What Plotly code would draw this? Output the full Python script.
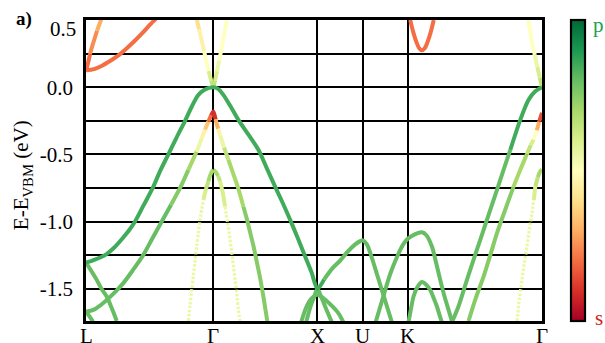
import plotly.graph_objects as go
from plotly.colors import sample_colorscale, diverging

# ---------------- k-path ----------------
KPOINT_POS = [0.0, 127.3, 231.3, 276.7, 321.3, 455.7]
KPOINT_LABELS = ["L", "Γ", "X", "U", "K", "Γ"]

Y_TICKS = [-1.5, -1.25, -1.0, -0.75, -0.5, -0.25, 0.0, 0.25, 0.5]
Y_TICKTEXT = ["-1.5", "", "-1.0", "", "-0.5", "", "0.0", "", ""]

# ---------------- bands: k, E (eV), p-character (0 = s, 1 = p) ----------------
# conduction bands
cbL1_k = [0, 8, 16, 24, 32, 40, 48, 56, 64, 70]
cbL1_e = [0.125, 0.135, 0.16, 0.195, 0.235, 0.285, 0.34, 0.40, 0.465, 0.51]
cbL1_c = [0.19, 0.19, 0.2, 0.2, 0.2, 0.2, 0.2, 0.2, 0.21, 0.21]

cbL2_k = [0, 2, 4, 6, 8.5, 11, 13.5, 15.5]
cbL2_e = [0.125, 0.18, 0.245, 0.30, 0.36, 0.42, 0.47, 0.51]
cbL2_c = [0.2, 0.21, 0.22, 0.24, 0.26, 0.28, 0.3, 0.31]

cbG_left_k = [127.3, 125, 122.5, 120, 118, 115.5, 113, 110.5]
cbG_left_e = [0.0, 0.05, 0.12, 0.2, 0.27, 0.35, 0.43, 0.51]
cbG_left_c = [0.66, 0.6, 0.55, 0.5, 0.47, 0.44, 0.42, 0.40]

cbG_right_k = [127.3, 129, 131, 133, 134.5, 136.5, 138.5, 140.7]
cbG_right_e = [0.0, 0.05, 0.12, 0.2, 0.25, 0.33, 0.41, 0.5]
cbG_right_c = [0.66, 0.6, 0.56, 0.53, 0.51, 0.5, 0.49, 0.48]

cbG2_k = [455.7, 453.5, 451, 448.5, 446, 444, 442]
cbG2_e = [0.0, 0.07, 0.15, 0.24, 0.32, 0.41, 0.5]
cbG2_c = [0.68, 0.6, 0.55, 0.52, 0.5, 0.48, 0.47]

cbK_k = [324, 327, 330, 333, 335.7, 338.5, 341.5, 344.5, 347.5]
cbK_e = [0.5, 0.41, 0.34, 0.29, 0.275, 0.29, 0.34, 0.41, 0.5]
cbK_c = [0.22] * 9

# valence bands
vb1_k = [0, 5, 10, 19, 28, 37, 44, 49, 57.5, 66.7, 74, 82.3, 90.5, 99, 106, 112, 118,
         127.3, 132, 137.3, 145, 152.3, 162, 172.3, 180.5, 189, 196.5, 204, 211.5, 219, 225.5,
         231.3, 238, 246, 254, 262, 269, 274, 276.7, 280.7, 285.7, 290.7, 295.7, 300.7, 305.7]
vb1_e = [-1.305, -1.295, -1.28, -1.25, -1.195, -1.12, -1.055, -1.0, -0.88, -0.75, -0.625,
         -0.5, -0.375, -0.25, -0.14, -0.06, -0.02,
         0.0, -0.012, -0.057, -0.15, -0.243, -0.35, -0.466, -0.6, -0.74, -0.86, -0.987, -1.12,
         -1.26, -1.38,
         -1.50, -1.43, -1.35, -1.29, -1.22, -1.17, -1.145, -1.14, -1.17, -1.27, -1.39, -1.51,
         -1.63, -1.75]
vb1_c = [0.83] * 15 + [0.85, 0.86, 0.87, 0.87, 0.87, 0.87, 0.87, 0.86, 0.86, 0.85, 0.85,
         0.85, 0.85, 0.84, 0.84, 0.84, 0.83, 0.83, 0.82, 0.82, 0.82, 0.82, 0.82, 0.82, 0.81,
         0.81, 0.81, 0.8, 0.8, 0.8, 0.8]

vb2_k = [0, 7.3, 14, 20.7, 29, 37.3, 47, 57.3, 66, 75.7, 85, 94, 102.3, 110.5, 115.7, 119,
         122.3, 125, 127.3, 129.5, 132, 134, 138, 142.3, 146.5, 150.7, 154, 157.3, 160.7, 164,
         167.3, 170.7, 174, 177.3, 180.7, 182]
vb2_e = [-1.67, -1.657, -1.625, -1.583, -1.525, -1.458, -1.36, -1.248, -1.13, -1.0, -0.875,
         -0.75, -0.615, -0.48, -0.38, -0.315, -0.256, -0.21, -0.18, -0.24, -0.31, -0.355,
         -0.45, -0.54, -0.63, -0.72, -0.80, -0.89, -0.98, -1.08, -1.18, -1.30, -1.42, -1.56,
         -1.72, -1.78]
vb2_c = [0.8, 0.8, 0.8, 0.8, 0.8, 0.8, 0.8, 0.8, 0.79, 0.78, 0.77, 0.76, 0.72, 0.64, 0.5,
         0.4, 0.28, 0.15, 0.03, 0.2, 0.38, 0.5, 0.62, 0.68, 0.7, 0.72, 0.72, 0.73, 0.73, 0.73,
         0.73, 0.73, 0.73, 0.73, 0.73, 0.73]

vb2b_k = [382.3, 389.5, 397.3, 404, 410.7, 419, 427.3, 434, 440.5, 444.5, 447.3, 450.5, 453,
          455.7]
vb2b_e = [-1.74, -1.57, -1.41, -1.25, -1.086, -0.91, -0.74, -0.615, -0.50, -0.43, -0.39,
          -0.32, -0.255, -0.19]
vb2b_c = [0.73, 0.73, 0.73, 0.73, 0.73, 0.73, 0.73, 0.72, 0.7, 0.62, 0.55, 0.4, 0.25, 0.04]

vb3a_k = [102.3, 104, 105.7, 107.3, 109, 110.7, 112.3, 114.5, 117.3, 119.8, 122.3, 125, 127.3]
vb3a_e = [-1.74, -1.62, -1.508, -1.40, -1.285, -1.18, -1.086, -0.96, -0.84, -0.76, -0.70,
          -0.64, -0.615]
vb3a_c = [0.54, 0.54, 0.54, 0.54, 0.54, 0.54, 0.54, 0.55, 0.56, 0.62, 0.68, 0.7, 0.72]

vb3b_k = [127.3, 130, 132, 134, 136.5, 139, 141.5, 144, 146.5, 149, 151, 152.3, 154]
vb3b_e = [-0.615, -0.635, -0.66, -0.70, -0.78, -0.888, -1.01, -1.136, -1.28, -1.434, -1.56,
          -1.657, -1.74]
vb3b_c = [0.72, 0.7, 0.68, 0.64, 0.6, 0.56, 0.54, 0.54, 0.54, 0.54, 0.54, 0.54, 0.54]

vb3c_k = [430.7, 433, 435.7, 438, 440.7, 443, 445.7, 447.5, 449, 451.5, 454, 455.7]
vb3c_e = [-1.74, -1.58, -1.434, -1.31, -1.186, -1.06, -0.94, -0.84, -0.74, -0.67, -0.625,
          -0.615]
vb3c_c = [0.54, 0.54, 0.54, 0.54, 0.54, 0.54, 0.55, 0.57, 0.62, 0.67, 0.7, 0.72]

vb4_k = [0, 5.5, 10.7, 15.5, 20.7, 25.5, 30.7]
vb4_e = [-1.305, -1.37, -1.434, -1.5, -1.558, -1.64, -1.74]
vb4_c = [0.8] * 7

vb5_k = [0, 3.5, 7]
vb5_e = [-1.67, -1.705, -1.745]
vb5_c = [0.8] * 3

vbX1_k = [220, 224, 228, 231.3, 235, 240, 245.7]
vbX1_e = [-1.75, -1.64, -1.56, -1.50, -1.56, -1.65, -1.75]
vbX1_c = [0.8] * 7

vbX2_k = [215, 220, 225, 231.3, 238, 246, 252, 257.3]
vbX2_e = [-1.75, -1.64, -1.575, -1.545, -1.575, -1.63, -1.68, -1.75]
vbX2_c = [0.8] * 8

vbK1_k = [289, 293, 297, 304, 311, 317, 321.3, 326, 331, 335.7, 340, 345.7, 350, 354, 358,
          362.3, 366]
vbK1_e = [-1.76, -1.66, -1.56, -1.39, -1.26, -1.17, -1.13, -1.105, -1.088, -1.08, -1.10,
          -1.186, -1.31, -1.434, -1.55, -1.657, -1.75]
vbK1_c = [0.8] * 17

vbK2_k = [322.3, 325, 327.3, 331, 335.7, 340, 344, 347.5, 350.7, 353.5, 355.7]
vbK2_e = [-1.75, -1.64, -1.558, -1.49, -1.45, -1.47, -1.51, -1.57, -1.632, -1.70, -1.75]
vbK2_c = [0.78] * 11

vbKG_k = [365, 372.3, 380.7, 387, 394, 404, 410.7, 417.3, 424, 434, 442.3, 449, 455.7]
vbKG_e = [-1.76, -1.63, -1.434, -1.29, -1.136, -0.913, -0.764, -0.615, -0.467, -0.243,
          -0.094, -0.03, 0.0]
vbKG_c = [0.78, 0.78, 0.78, 0.79, 0.8, 0.8, 0.81, 0.82, 0.83, 0.85, 0.86, 0.87, 0.87]

# (k, E, c, dotted-below threshold) in drawing order
BANDS = [
    (cbL1_k, cbL1_e, cbL1_c, None),
    (cbL2_k, cbL2_e, cbL2_c, None),
    (cbG_left_k, cbG_left_e, cbG_left_c, None),
    (cbG_right_k, cbG_right_e, cbG_right_c, None),
    (cbG2_k, cbG2_e, cbG2_c, None),
    (cbK_k, cbK_e, cbK_c, None),
    (vb3a_k, vb3a_e, vb3a_c, 0.58),
    (vb3b_k, vb3b_e, vb3b_c, 0.58),
    (vb3c_k, vb3c_e, vb3c_c, 0.58),
    (vb5_k, vb5_e, vb5_c, None),
    (vb4_k, vb4_e, vb4_c, None),
    (vbX1_k, vbX1_e, vbX1_c, None),
    (vbX2_k, vbX2_e, vbX2_c, None),
    (vbK2_k, vbK2_e, vbK2_c, None),
    (vbK1_k, vbK1_e, vbK1_c, None),
    (vb2_k, vb2_e, vb2_c, None),
    (vb2b_k, vb2b_e, vb2b_c, None),
    (vbKG_k, vbKG_e, vbKG_c, None),
    (vb1_k, vb1_e, vb1_c, None),
]

SCALE = diverging.RdYlGn
FONT = "Liberation Serif"

fig = go.Figure()

# colour bar (invisible markers carrying the colour information)
all_k = [v for b in BANDS for v in b[0]]
all_e = [v for b in BANDS for v in b[1]]
all_c = [v for b in BANDS for v in b[2]]
fig.add_trace(go.Scatter(
    x=all_k, y=all_e, mode="markers", hoverinfo="skip", showlegend=False,
    marker=dict(size=1, opacity=0, color=all_c, colorscale=SCALE, cmin=0, cmax=1,
                showscale=True,
                colorbar=dict(x=1.0636, xanchor="left", y=0.5, yanchor="middle",
                              len=1.0, lenmode="fraction", thickness=14,
                              outlinewidth=2.2, outlinecolor="black",
                              showticklabels=False, ticks="", xpad=0, ypad=0))))


def qcol(v):
    return round(v * 20) / 20


for k, e, c, dot_thr in BANDS:
    n = len(k)
    i = 0
    while i < n - 1:
        q = qcol((c[i] + c[i + 1]) / 2)
        dotted = dot_thr is not None and (c[i] + c[i + 1]) / 2 < dot_thr
        j = i + 1
        while j < n - 1:
            m = (c[j] + c[j + 1]) / 2
            d2 = dot_thr is not None and m < dot_thr
            if qcol(m) != q or d2 != dotted:
                break
            j += 1
        color = sample_colorscale(SCALE, [q])[0]
        fig.add_trace(go.Scatter(
            x=k[i:j + 1], y=e[i:j + 1], mode="lines", hoverinfo="skip", showlegend=False,
            line=dict(color=color, width=3.2 if dotted else 4, shape="spline", smoothing=0.8,
                      dash="2.6px,1.6px" if dotted else "solid")))
        i = j

fig.update_layout(
    width=605, height=343,
    margin=dict(l=86, r=63, t=20, b=22, autoexpand=False),
    paper_bgcolor="white", plot_bgcolor="white",
    font=dict(family=FONT, size=21, color="black"),
    showlegend=False,
    xaxis=dict(range=[KPOINT_POS[0], KPOINT_POS[-1]], tickvals=KPOINT_POS,
               showticklabels=False, ticks="", showgrid=True, gridcolor="black",
               gridwidth=1.5, zeroline=False, showline=True, linecolor="black",
               linewidth=2.5, mirror=True),
    yaxis=dict(range=[-1.74, 0.5], tickvals=Y_TICKS, ticktext=Y_TICKTEXT,
               ticks="outside", ticklen=6, tickcolor="rgba(0,0,0,0)",
               showgrid=True, gridcolor="black", gridwidth=1.5,
               zeroline=True, zerolinecolor="black", zerolinewidth=2.2,
               showline=True, linecolor="black", linewidth=2.5, mirror=True,
               tickfont=dict(family=FONT, size=21)),
)

# k-point labels
for pos, lab in zip(KPOINT_POS, KPOINT_LABELS):
    fig.add_annotation(x=pos, xref="x", y=0, yref="paper", yanchor="top", yshift=-1,
                       text=lab, showarrow=False, font=dict(family=FONT, size=21))

fig.add_annotation(x=0, xref="paper", xanchor="right", xshift=-8, y=0.5, yref="y",
                   yanchor="middle", yshift=-9, text="0.5", showarrow=False,
                   font=dict(family=FONT, size=21))
fig.add_annotation(x=-0.14, xref="paper", y=0.485, yref="paper", text="E-E<sub>VBM</sub> (eV)",
                   textangle=-90, showarrow=False, xanchor="center", yanchor="middle",
                   font=dict(family=FONT, size=21))
fig.add_annotation(x=-0.136, xref="paper", y=1.003, yref="paper", text="<b>a)</b>",
                   showarrow=False, xanchor="center", yanchor="middle",
                   font=dict(family=FONT, size=19))
fig.add_annotation(x=1.123, xref="paper", y=0.985, yref="paper", text="p", showarrow=False,
                   xanchor="center", yanchor="middle",
                   font=dict(family=FONT, size=21, color="#1fa050"))
fig.add_annotation(x=1.125, xref="paper", y=0.01, yref="paper", text="s", showarrow=False,
                   xanchor="center", yanchor="middle",
                   font=dict(family=FONT, size=21, color="#d41c1c"))

fig.write_html("out.html")
